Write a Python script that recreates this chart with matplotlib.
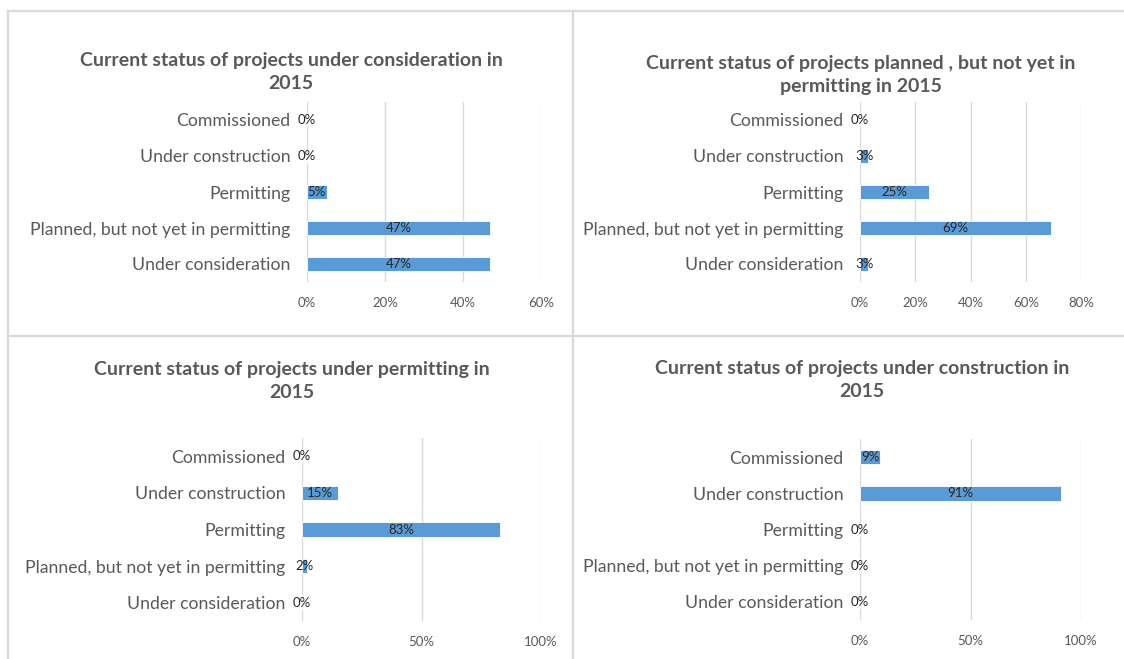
import numpy as np
import matplotlib
matplotlib.use('Agg')
from matplotlib import pyplot as plt
from matplotlib.lines import Line2D
from matplotlib.ticker import FuncFormatter

W, H = 1124, 659
BAR_COLOR = '#5B9BD5'
GRID_COLOR = '#D9D9D9'
TEXT_COLOR = '#595959'

categories = ['Under consideration', 'Planned, but not yet in permitting',
              'Permitting', 'Under construction', 'Commissioned']

titles = ['Current status of projects under consideration in\n2015',
          'Current status of projects planned , but not yet in\npermitting in 2015',
          'Current status of projects under permitting in\n2015',
          'Current status of projects under construction in\n2015']

# shares, bottom-to-top in the order of categories
consideration = [0.47, 0.47, 0.05, 0.0, 0.0]
planned = [0.03, 0.69, 0.25, 0.03, 0.0]
permitting = [0.0, 0.02, 0.83, 0.15, 0.0]
construction = [0.0, 0.0, 0.0, 0.91, 0.09]

xticks_list = [[0, 0.2, 0.4, 0.6], [0, 0.2, 0.4, 0.6, 0.8], [0, 0.5, 1.0], [0, 0.5, 1.0]]

# pixel boxes: axes (left, right, top, bottom), title centre (x, y)
axes_px = [(307, 541, 102, 282), (860, 1081, 102, 282),
           (302, 541, 438, 621), (860, 1081, 439, 620)]
title_px = [(291, 72), (861, 75), (292, 381), (862, 380)]

plt.rcParams['font.family'] = ['Lato', 'DejaVu Sans']

fig = plt.figure(figsize=(W / 100, H / 100), dpi=100)

# panel borders (picture is cropped: no right or bottom edge)
border_lines = [((8, 1124), (11, 11)), ((8, 1124), (336, 336)),
                ((8, 8), (11, 659)), ((573, 573), (11, 659))]
for xs, ys in border_lines:
    fig.add_artist(Line2D([x / W for x in xs], [1 - v / H for v in ys],
                          transform=fig.transFigure, color=GRID_COLOR, linewidth=1.6))

data = [consideration, planned, permitting, construction]
y = np.arange(len(categories))

for i in range(4):
    l, r, t, b = axes_px[i]
    ax = fig.add_axes([l / W, 1 - b / H, (r - l) / W, (b - t) / H])
    vals = data[i]
    ax.barh(y, vals, height=0.4, color=BAR_COLOR, edgecolor='white', linewidth=0.6, zorder=3)
    for yy, v in zip(y, vals):
        ax.text(v / 2, yy, '{:.0f}%'.format(v * 100), ha='center', va='center',
                fontsize=9.5, color='#262626', zorder=4)
    ax.set_ylim(-0.5, 4.5)
    ax.set_xlim(0, xticks_list[i][-1])
    ax.set_xticks(xticks_list[i])
    ax.xaxis.set_major_formatter(FuncFormatter(lambda v, p: '{:.0f}%'.format(v * 100)))
    ax.set_yticks(y)
    ax.set_yticklabels(categories)
    ax.tick_params(axis='y', length=0, pad=12, labelsize=12.7, labelcolor=TEXT_COLOR)
    ax.tick_params(axis='x', length=0, pad=11, labelsize=9.5, labelcolor=TEXT_COLOR)
    ax.grid(axis='x', color=GRID_COLOR, linewidth=1, zorder=0)
    for s in ax.spines.values():
        s.set_visible(False)
    ax.set_facecolor('none')

    tx, ty = title_px[i]
    fig.text(tx / W, 1 - ty / H, titles[i], ha='center', va='center',
             fontsize=14, fontweight='bold', color=TEXT_COLOR, linespacing=1.45)

fig.savefig('out.png', dpi=100)
